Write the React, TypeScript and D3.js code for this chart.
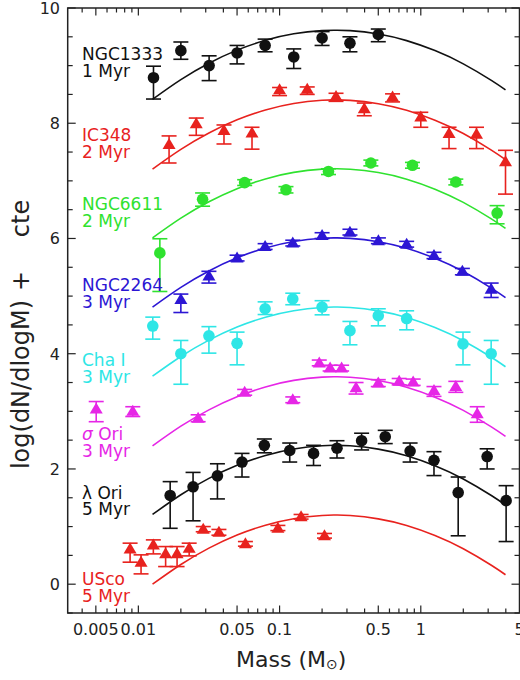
import React from 'react';
import * as d3 from 'd3';

// ---------- data (offsets already included) ----------
const ngc1333Mass = [0.0128, 0.02, 0.0317, 0.05, 0.079, 0.126, 0.2, 0.315, 0.5];
const ngc1333Val = [8.79, 9.26, 9.0, 9.22, 9.35, 9.15, 9.48, 9.39, 9.54];
const ngc1333Hi = [8.99, 9.41, 9.17, 9.35, 9.46, 9.29, 9.59, 9.5, 9.635];
const ngc1333Lo = [8.42, 9.11, 8.74, 9.03, 9.24, 8.95, 9.35, 9.24, 9.415];

const ic348Mass = [0.0165, 0.0257, 0.0404, 0.0638, 0.1, 0.157, 0.251, 0.398, 0.631, 1.0, 1.585, 2.48, 3.98];
const ic348Val = [7.63, 7.99, 7.875, 7.83, 8.58, 8.59, 8.465, 8.25, 8.455, 8.11, 7.82, 7.81, 7.33];
const ic348Hi = [7.78, 8.09, 7.97, 7.93, 8.62, 8.63, 8.52, 8.35, 8.51, 8.19, 7.93, 7.93, 7.53];
const ic348Lo = [7.31, 7.79, 7.64, 7.55, 8.48, 8.5, 8.38, 8.13, 8.37, 7.93, 7.56, 7.56, 6.77];

const ngc6611Mass = [0.0142, 0.0285, 0.0566, 0.111, 0.222, 0.443, 0.873, 1.77, 3.47];
const ngc6611Val = [5.75, 6.68, 6.97, 6.845, 7.163, 7.31, 7.27, 6.98, 6.44];
const ngc6611Hi = [5.995, 6.79, 7.02, 6.9, 7.21, 7.36, 7.32, 7.03, 6.57];
const ngc6611Lo = [5.08, 6.56, 6.92, 6.79, 7.11, 7.26, 7.22, 6.93, 6.255];

const ngc2264Mass = [0.02, 0.0316, 0.05, 0.079, 0.124, 0.2, 0.315, 0.501, 0.794, 1.24, 1.97, 3.15];
const ngc2264Val = [4.94, 5.35, 5.66, 5.86, 5.92, 6.05, 6.11, 5.96, 5.9, 5.705, 5.43, 5.12];
const ngc2264Hi = [5.035, 5.43, 5.71, 5.91, 5.97, 6.1, 6.16, 6.01, 5.95, 5.76, 5.48, 5.226];
const ngc2264Lo = [4.715, 5.226, 5.61, 5.81, 5.87, 6.0, 6.06, 5.91, 5.85, 5.65, 5.37, 4.976];

const chaMass = [0.01265, 0.02, 0.0316, 0.05, 0.079, 0.124, 0.2, 0.315, 0.5, 0.794, 1.99, 3.15];
const chaVal = [4.48, 4.0, 4.31, 4.18, 4.78, 4.95, 4.81, 4.4, 4.66, 4.61, 4.17, 4.0];
const chaHi = [4.635, 4.23, 4.47, 4.375, 4.9, 5.05, 4.92, 4.56, 4.78, 4.745, 4.375, 4.23];
const chaLo = [4.253, 3.47, 4.01, 3.807, 4.68, 4.85, 4.675, 4.155, 4.484, 4.415, 3.807, 3.47];

const sigOriMass = [0.00503, 0.00913, 0.0265, 0.0566, 0.124, 0.191, 0.228, 0.275, 0.348, 0.5, 0.703, 0.883, 1.24, 1.77, 2.51];
const sigOriVal = [3.04, 3.0, 2.88, 3.33, 3.2, 3.84, 3.75, 3.75, 3.41, 3.49, 3.52, 3.51, 3.36, 3.43, 2.96];
const sigOriHi = [3.17, 3.08, 2.94, 3.38, 3.25, 3.89, 3.8, 3.8, 3.5, 3.55, 3.57, 3.56, 3.43, 3.52, 3.08];
const sigOriLo = [2.82, 2.91, 2.82, 3.28, 3.15, 3.79, 3.7, 3.7, 3.3, 3.43, 3.46, 3.45, 3.26, 3.33, 2.81];

const lamOriMass = [0.0168, 0.0244, 0.0363, 0.0542, 0.078, 0.118, 0.174, 0.255, 0.381, 0.56, 0.84, 1.24, 1.84, 2.95, 4.02];
const lamOriVal = [1.54, 1.69, 1.88, 2.12, 2.41, 2.32, 2.27, 2.36, 2.49, 2.56, 2.31, 2.15, 1.59, 2.215, 1.45];
const lamOriHi = [1.78, 1.94, 2.09, 2.27, 2.52, 2.45, 2.41, 2.49, 2.62, 2.67, 2.45, 2.3, 1.86, 2.35, 1.71];
const lamOriLo = [0.97, 1.1, 1.48, 1.86, 2.28, 2.12, 2.06, 2.19, 2.33, 2.44, 2.12, 1.885, 0.84, 2.0, 0.74];

const uscoMass = [0.00874, 0.01045, 0.01277, 0.0156, 0.0188, 0.0229, 0.0288, 0.0372, 0.0573, 0.0973, 0.142, 0.208];
const uscoVal = [0.61, 0.38, 0.68, 0.53, 0.53, 0.625, 0.955, 0.9, 0.7, 0.97, 1.17, 0.84];
const uscoHi = [0.712, 0.509, 0.769, 0.653, 0.653, 0.712, 1.0, 0.95, 0.74, 1.02, 1.21, 0.88];
const uscoLo = [0.382, 0.179, 0.526, 0.306, 0.306, 0.491, 0.91, 0.85, 0.66, 0.93, 1.13, 0.8];

// shared log-normal fit curve (same shape for every cluster), read as drop below each peak
const curveMass = [0.0126, 0.02, 0.0316, 0.05, 0.0794, 0.126, 0.2, 0.25, 0.316, 0.5, 0.794, 1.26, 2.0, 3.16, 3.98];
const curveDrop = [1.2, 0.858, 0.574, 0.346, 0.176, 0.063, 0.007, 0.0, 0.008, 0.066, 0.181, 0.354, 0.584, 0.871, 1.036];
const curvePeaks = [9.615, 8.405, 7.21, 6.01, 4.81, 3.6, 2.41, 1.2];

const clusterNames = ['NGC1333', 'IC348', 'NGC6611', 'NGC2264', 'Cha I', 'σ Ori', 'λ Ori', 'USco'];
const clusterAges = ['1 Myr', '2 Myr', '2 Myr', '3 Myr', '3 Myr', '3 Myr', '5 Myr', '5 Myr'];

const xTickValues = [0.005, 0.01, 0.05, 0.1, 0.5, 1, 5];
const xTickLabels = ['0.005', '0.01', '0.05', '0.1', '0.5', '1', '5'];
const yTickValues = [0, 2, 4, 6, 8, 10];

// ---------- styling / layout ----------
const colors = ['#111111', '#e8221e', '#2fe22f', '#2c16d4', '#2ee6e6', '#e626e6', '#111111', '#e8221e'];
const markers = ['circle', 'triangle', 'circle', 'triangle', 'circle', 'triangle', 'circle', 'triangle'];
const labelBaselines = [[60, 77], [140.5, 158], [210, 226.5], [290.5, 307.5], [365.5, 382.5], [439.5, 456.5], [498.5, 515], [585, 601.5]];

const FONT = "'DejaVu Sans', Verdana, sans-serif";

const seriesData = [
  [ngc1333Mass, ngc1333Val, ngc1333Hi, ngc1333Lo],
  [ic348Mass, ic348Val, ic348Hi, ic348Lo],
  [ngc6611Mass, ngc6611Val, ngc6611Hi, ngc6611Lo],
  [ngc2264Mass, ngc2264Val, ngc2264Hi, ngc2264Lo],
  [chaMass, chaVal, chaHi, chaLo],
  [sigOriMass, sigOriVal, sigOriHi, sigOriLo],
  [lamOriMass, lamOriVal, lamOriHi, lamOriLo],
  [uscoMass, uscoVal, uscoHi, uscoLo],
];

export default function App() {
  const left = 67.7, right = 519.5, top = 8, bottom = 613;
  const x = d3.scaleLog().domain([0.00316, 5]).range([left, right]);
  const y = d3.scaleLinear().domain([-0.5, 10]).range([bottom, top]);
  const line = d3
    .line<[number, number]>()
    .x((d) => x(d[0]))
    .y((d) => y(d[1]))
    .curve(d3.curveNatural);

  const axisColor = '#222';
  const xMinor = x.ticks(40).filter((t) => t > 0.00316 && t < 5);
  const isMajorX = (t: number) => {
    const e = Math.floor(Math.log10(t) + 1e-9);
    const m = Math.round(t / Math.pow(10, e));
    return m === 1 || m === 5;
  };
  const yMinor = d3.range(-0.5, 10.01, 0.5);

  const cap = 7.5;

  return (
    <svg width={520} height={680} style={{ position: 'absolute', left: 0, top: 0, background: '#fff' }}>
      <rect x={0} y={0} width={520} height={680} fill="#fff" />
      {/* curves */}
      {curvePeaks.map((p, i) => (
        <path
          key={'c' + i}
          d={line(curveMass.map((m, j) => [m, p - curveDrop[j]] as [number, number])) || ''}
          fill="none"
          stroke={colors[i]}
          strokeWidth={1.6}
        />
      ))}
      {/* error bars and markers */}
      {seriesData.map(([ms, vs, his, los], i) => (
        <g key={'s' + i} stroke={colors[i]} fill={colors[i]}>
          {ms.map((m, j) => {
            const cx = x(m);
            const yh = y(his[j]);
            const yl = y(los[j]);
            return (
              <g key={j}>
                <line x1={cx} x2={cx} y1={yh} y2={yl} strokeWidth={1.6} />
                <line x1={cx - cap} x2={cx + cap} y1={yh} y2={yh} strokeWidth={1.6} />
                <line x1={cx - cap} x2={cx + cap} y1={yl} y2={yl} strokeWidth={1.6} />
              </g>
            );
          })}
          {ms.map((m, j) => {
            const cx = x(m);
            const cy = y(vs[j]);
            return markers[i] === 'circle' ? (
              <circle key={'m' + j} cx={cx} cy={cy} r={5.8} stroke="none" />
            ) : (
              <path
                key={'m' + j}
                d={`M${cx},${cy - 6.5}L${cx + 6.5},${cy + 4.5}L${cx - 6.5},${cy + 4.5}Z`}
                stroke="none"
              />
            );
          })}
        </g>
      ))}
      {/* frame */}
      <rect x={left} y={top} width={right - left} height={bottom - top} fill="none" stroke={axisColor} strokeWidth={1.5} />
      {/* x ticks */}
      {xMinor.map((t, i) => {
        const len = isMajorX(t) ? 7.5 : 4.5;
        const px = x(t);
        return (
          <g key={'xt' + i} stroke={axisColor} strokeWidth={1.2}>
            <line x1={px} x2={px} y1={bottom} y2={bottom - len} />
            <line x1={px} x2={px} y1={top} y2={top + len} />
          </g>
        );
      })}
      {/* y ticks */}
      {yMinor.map((t, i) => {
        const major = Math.abs(t % 2) < 1e-6;
        const len = major ? 8 : 5;
        const py = y(t);
        return (
          <g key={'yt' + i} stroke={axisColor} strokeWidth={1.2}>
            <line x1={left} x2={left + len} y1={py} y2={py} />
            <line x1={right} x2={right - len} y1={py} y2={py} />
          </g>
        );
      })}
      {/* tick labels */}
      {xTickValues.map((t, i) => (
        <text key={'xl' + i} x={x(t)} y={635} textAnchor="middle" fontFamily={FONT} fontSize={16} fill="#222">
          {xTickLabels[i]}
        </text>
      ))}
      {yTickValues.map((t, i) => (
        <text key={'yl' + i} x={60} y={y(t) + 5.8} textAnchor="end" fontFamily={FONT} fontSize={16} fill="#222">
          {String(t)}
        </text>
      ))}
      {/* axis titles */}
      <text x={236} y={666.5} fontFamily={FONT} fontSize={22} fill="#222" style={{ whiteSpace: 'pre' }}>
        {'Mass ('}
        <tspan>M</tspan>
        <tspan fontSize={14} dy={2}>⊙</tspan>
        <tspan dy={-2}>)</tspan>
      </text>
      <g transform="translate(28.5,0) rotate(-90)" fontFamily={FONT} fontSize={24} fill="#222">
        <text x={-384.5} y={0} textAnchor="middle">log(dN/dlogM)</text>
        <text x={-281} y={0} textAnchor="middle">+</text>
        <text x={-218.5} y={0} textAnchor="middle">cte</text>
      </g>
      {/* cluster labels */}
      {clusterNames.map((n, i) => (
        <text key={'n' + i} fontFamily={FONT} fontSize={17} fill={colors[i]}>
          <tspan x={82} y={labelBaselines[i][0]}>
            {n.startsWith('σ') ? (
              <>
                <tspan fontStyle="italic">σ</tspan>
                {n.slice(1)}
              </>
            ) : (
              n
            )}
          </tspan>
          <tspan x={82} y={labelBaselines[i][1]}>
            {clusterAges[i]}
          </tspan>
        </text>
      ))}
    </svg>
  );
}
